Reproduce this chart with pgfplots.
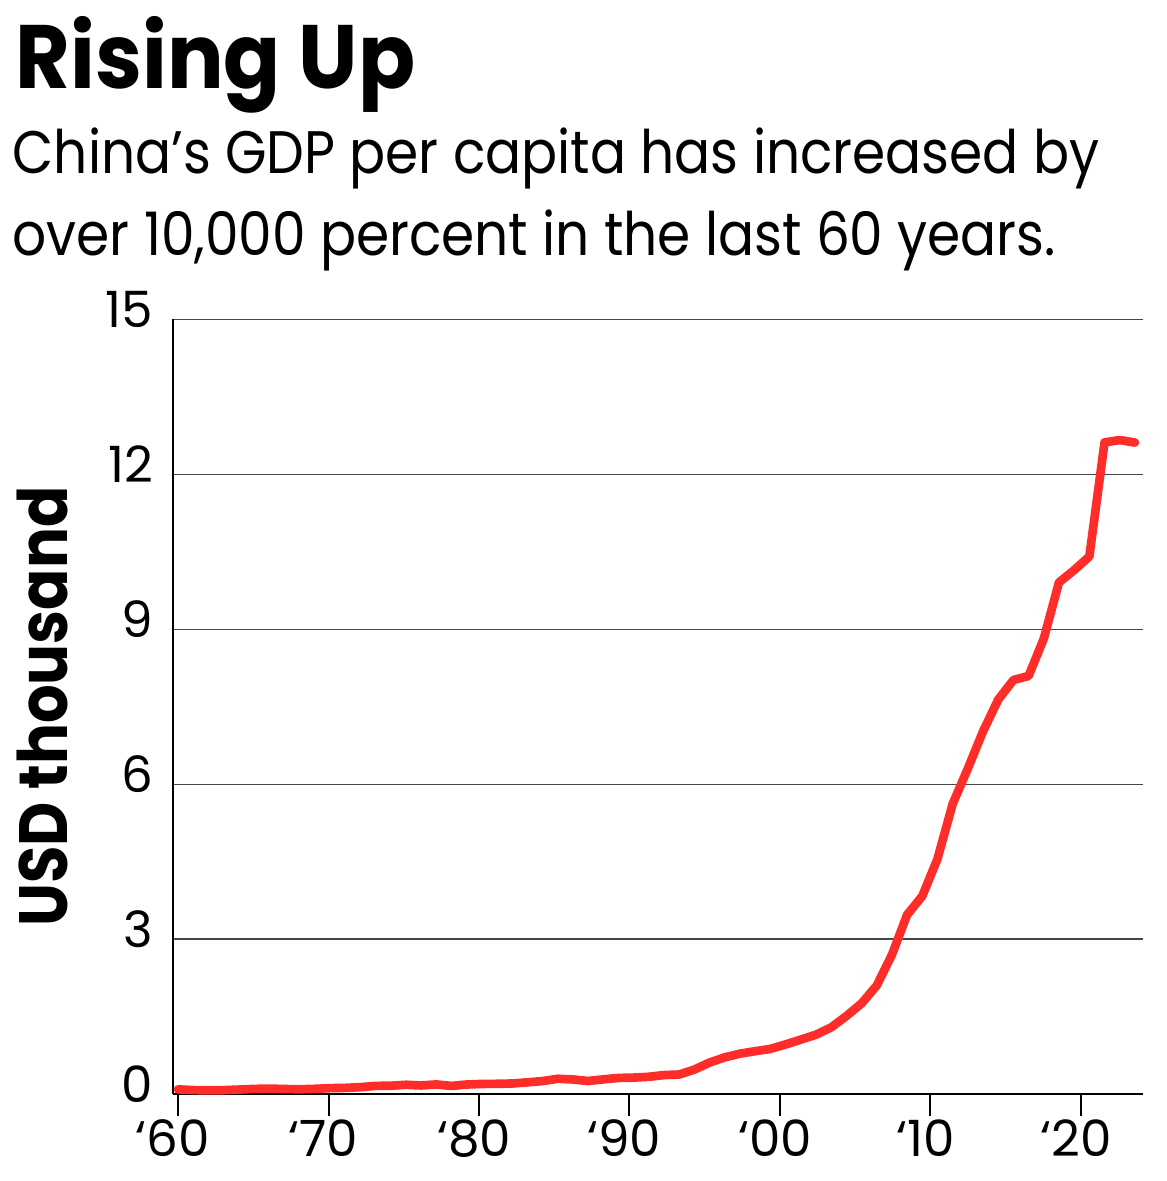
\documentclass[border=0pt]{standalone}
\usepackage{fontspec}
\setmainfont{Poppins}
\newfontfamily\titlefont[FakeStretch=0.935]{Poppins}
\newfontfamily\subfont[FakeStretch=0.89,WordSpace=1.1]{Poppins}
\newfontfamily\labfont[FakeStretch=0.89]{Poppins}
\usepackage{pgfplots}
\usepackage{pgfplotstable}
\pgfplotsset{compat=1.18}
\definecolor{linered}{RGB}{255,45,41}
\definecolor{gridgray}{RGB}{70,70,70}
\pgfplotstableread{
year gdp
1960 0.0895
1961 0.0758
1962 0.0709
1963 0.0743
1964 0.0855
1965 0.0985
1966 0.1043
1967 0.0966
1968 0.0915
1969 0.1001
1970 0.1132
1971 0.1187
1972 0.1319
1973 0.1571
1974 0.1601
1975 0.1783
1976 0.1654
1977 0.1854
1978 0.1564
1979 0.1839
1980 0.1948
1981 0.1971
1982 0.2033
1983 0.2254
1984 0.2507
1985 0.2945
1986 0.2819
1987 0.2518
1988 0.2835
1989 0.3109
1990 0.3179
1991 0.3331
1992 0.3665
1993 0.3774
1994 0.4735
1995 0.6097
1996 0.7094
1997 0.7817
1998 0.8286
1999 0.8733
2000 0.9594
2001 1.0531
2002 1.1485
2003 1.2886
2004 1.5087
2005 1.7534
2006 2.0992
2007 2.6939
2008 3.4683
2009 3.8322
2010 4.5505
2011 5.6144
2012 6.3006
2013 7.0204
2014 7.6361
2015 8.0164
2016 8.0944
2017 8.8170
2018 9.9053
2019 10.1439
2020 10.4087
2021 12.6175
2022 12.6626
2023 12.6141
}\gdp
\begin{document}
\begin{tikzpicture}
\path[use as bounding box] (-51.9pt,-26.1pt) rectangle (298.2pt,328.2pt);
\begin{axis}[
  at={(0,0)}, anchor=south west,
  scale only axis, width=290.9pt, height=232.4pt,
  xmin=1959.67, xmax=2023.51, ymin=0, ymax=15,
  axis x line=bottom, axis y line=left,
  axis line style={line width=0.6pt, -},
  xtick={1960,1969.91,1979.82,1989.72,1999.63,2009.54,2019.45},
  xticklabels={‘60,‘70,‘80,‘90,‘00,‘10,‘20},
  ytick={0,3,6,9,12,15},
  ymajorgrids, major grid style={gridgray, line width=0.35pt},
  tick align=outside, major tick length=6.6pt,
  xtick style={black, line width=0.6pt},
  ytick style={draw=none},
  /pgf/number format/assume math mode=true,
  tick label style={font=\fontsize{15}{15}\selectfont},
  xticklabel style={anchor=north, inner sep=0pt, yshift=-1pt, xshift=-1.5pt},
  yticklabel style={anchor=east, inner sep=0pt, xshift=0.9pt, yshift=3pt},
  ylabel={USD thousand},
  ylabel style={font=\labfont\bfseries\fontsize{20.5}{20.5}\selectfont, at={(rel axis cs:0,0.5)}, anchor=base, inner sep=0pt, yshift=31.5pt},
  clip=false,
]
\addplot[linered, line width=2.6pt, line join=round, line cap=round] table[x=year,y=gdp]{\gdp};
\end{axis}
\node[anchor=base west, inner sep=0pt, font=\titlefont\bfseries\fontsize{27}{27}\selectfont] at (-47.4pt,301.7pt) {Rising Up};
\node[anchor=base west, inner sep=0pt, font=\subfont\fontsize{18}{18}\selectfont] at (-48.3pt,276.2pt) {China’s GDP per capita has increased by};
\node[anchor=base west, inner sep=0pt, font=\subfont\fontsize{18}{18}\selectfont] at (-48.3pt,251.7pt) {over 10,000 percent in the last 60 years.};
\end{tikzpicture}
\end{document}
